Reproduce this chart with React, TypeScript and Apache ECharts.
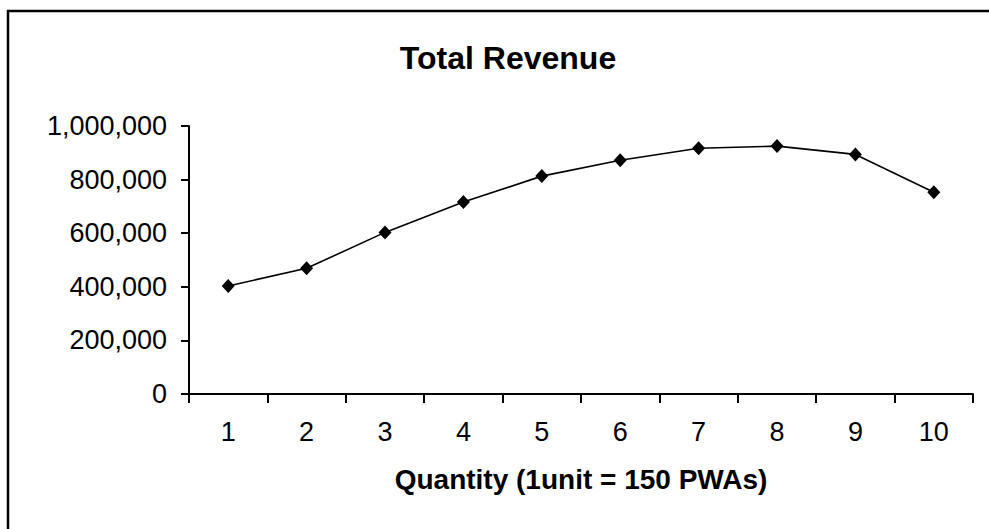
import React, { useEffect, useRef } from "react";
import * as echarts from "echarts";

const categories: string[] = ["1", "2", "3", "4", "5", "6", "7", "8", "9", "10"];
const revenue: number[] = [403000, 469000, 603000, 716000, 813000, 872000, 917000, 925000, 894000, 753000];
const yTicks = { min: 0, max: 1000000, interval: 200000 };
const titleText = "Total Revenue";
const xAxisName = "Quantity (1unit = 150 PWAs)";

const FONT = "'Liberation Sans', Arial, sans-serif";

function fmt(v: number): string {
  return String(Math.round(v)).replace(/\B(?=(\d{3})+(?!\d))/g, ",");
}

export default function App() {
  const ref = useRef<HTMLDivElement>(null);
  useEffect(() => {
    if (!ref.current) return;
    const chart = echarts.init(ref.current, undefined, { renderer: "svg" });
    chart.setOption({
      animation: false,
      backgroundColor: "#ffffff",
      textStyle: { fontFamily: FONT, color: "#000" },
      title: {
        text: titleText,
        left: 503,
        top: 37,
        textAlign: "center",
        textStyle: { fontFamily: FONT, fontSize: 32, fontWeight: "bold", color: "#000" },
      },
      graphic: [
        {
          type: "rect",
          shape: { x: 8, y: 11, width: 1100, height: 700 },
          style: { fill: "none", stroke: "#000", lineWidth: 2.5 },
          silent: true,
        },
      ],
      grid: { left: 189, right: 16, top: 126, bottom: 135, containLabel: false },
      xAxis: {
        type: "category",
        data: categories,
        boundaryGap: true,
        name: xAxisName,
        nameLocation: "middle",
        nameGap: 71,
        nameTextStyle: { fontFamily: FONT, fontSize: 28, fontWeight: "bold", color: "#000" },
        axisLine: { lineStyle: { color: "#000", width: 2 } },
        axisTick: { show: true, alignWithLabel: false, length: 9, lineStyle: { color: "#000", width: 2 } },
        axisLabel: { fontFamily: FONT, fontSize: 27, color: "#000", margin: 24 },
        splitLine: { show: false },
      },
      yAxis: {
        type: "value",
        min: yTicks.min,
        max: yTicks.max,
        interval: yTicks.interval,
        axisLine: { show: true, lineStyle: { color: "#000", width: 2 } },
        axisTick: { show: true, length: 8, lineStyle: { color: "#000", width: 2 } },
        axisLabel: { fontFamily: FONT, fontSize: 27, color: "#000", margin: 22, formatter: (v: number) => fmt(v) },
        splitLine: { show: false },
      },
      series: [
        {
          type: "line",
          data: revenue,
          symbol: "diamond",
          symbolSize: [13, 14],
          itemStyle: { color: "#000" },
          lineStyle: { color: "#000", width: 1.6 },
        },
      ],
    });
    return () => chart.dispose();
  }, []);
  return (
    <div
      ref={ref}
      style={{ position: "fixed", left: 0, top: 0, width: 989, height: 529, background: "#fff" }}
    />
  );
}
